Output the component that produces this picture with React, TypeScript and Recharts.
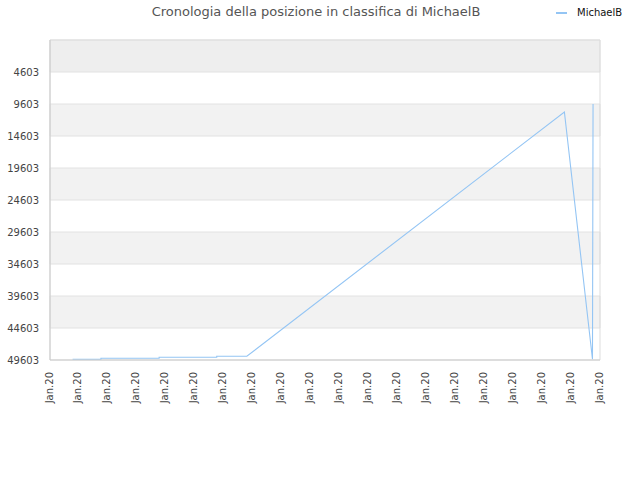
import React from 'react';
import { LineChart, Line, XAxis, YAxis, ReferenceArea } from 'recharts';

const title = 'Cronologia della posizione in classifica di MichaelB';
const seriesName = 'MichaelB';

// x positions in units of x-tick slots, y = ranking position
const days = [0.78, 1.76, 1.76, 3.77, 3.77, 5.76, 5.76, 6.8, 17.77, 18.74, 18.76];
const ranks = [49490, 49490, 49334, 49334, 49178, 49178, 49022, 49022, 10850, 49490, 9600];

const xTickValues = [0, 1, 2, 3, 4, 5, 6, 7, 8, 9, 10, 11, 12, 13, 14, 15, 16, 17, 18, 19];
const xTickLabels = [
  'Jan.20', 'Jan.20', 'Jan.20', 'Jan.20', 'Jan.20', 'Jan.20', 'Jan.20', 'Jan.20', 'Jan.20', 'Jan.20',
  'Jan.20', 'Jan.20', 'Jan.20', 'Jan.20', 'Jan.20', 'Jan.20', 'Jan.20', 'Jan.20', 'Jan.20', 'Jan.20',
];
const yTicks = [4603, 9603, 14603, 19603, 24603, 29603, 34603, 39603, 44603, 49603];
const yDomain = [-397, 49603];
const bandStarts = [-397, 9603, 19603, 29603, 39603];
const bandEnds = [4603, 14603, 24603, 34603, 44603];

const data = days.map((d, i) => ({ t: d, rank: ranks[i] }));

const LINE_COLOR = '#94c5f4';
const FONT = '"DejaVu Sans", sans-serif';

const XTick = (props: any) => {
  const { x, y, payload } = props;
  const label = xTickLabels[payload.value] ?? '';
  return (
    <g transform={`translate(${x},${y})`}>
      <text
        x={0}
        y={0}
        dy={2.5}
        textAnchor="end"
        transform="rotate(-90)"
        fontSize={10}
        fontFamily={FONT}
        fill="#444"
      >
        {label}
      </text>
    </g>
  );
};

export default function App() {
  return (
    <div style={{ position: 'absolute', left: 0, top: 0, width: 640, height: 480, background: '#fff' }}>
      <div
        style={{
          position: 'absolute',
          left: 0,
          top: 4,
          width: 632,
          textAlign: 'center',
          fontFamily: FONT,
          fontSize: 13,
          lineHeight: '16px',
          color: '#555',
        }}
      >
        {title}
      </div>
      <div
        style={{
          position: 'absolute',
          left: 556,
          top: 6,
          display: 'flex',
          alignItems: 'center',
          fontFamily: FONT,
          fontSize: 10,
          lineHeight: '14px',
          color: '#111',
        }}
      >
        <span style={{ display: 'inline-block', width: 11, height: 2, background: LINE_COLOR, marginRight: 10 }} />
        <span>{seriesName}</span>
      </div>
      <LineChart width={640} height={480} data={data} margin={{ top: 40, right: 40, bottom: 0, left: 0 }}>
        {bandStarts.map((s, i) => (
          <ReferenceArea
            key={i}
            y1={s}
            y2={bandEnds[i]}
            fill={i === 0 ? '#eeeeee' : '#f2f2f2'}
            fillOpacity={1}
            stroke="#e2e2e2"
            strokeWidth={1}
          />
        ))}
        <ReferenceArea x1={0} x2={19} y1={yDomain[0]} y2={yDomain[1]} fill="none" stroke="#dddddd" />
        <XAxis
          dataKey="t"
          type="number"
          domain={[0, 19]}
          ticks={xTickValues}
          interval={0}
          height={120}
          tick={<XTick />}
          tickLine={false}
          tickSize={6}
          tickMargin={6}
          axisLine={{ stroke: '#cccccc' }}
        />
        <YAxis
          type="number"
          domain={yDomain}
          reversed
          ticks={yTicks}
          interval={0}
          width={50}
          tickLine={false}
          tickSize={8}
          tickMargin={3}
          axisLine={{ stroke: '#cccccc' }}
          tick={{ fontSize: 10, fontFamily: FONT, fill: '#444' }}
        />
        <Line
          type="linear"
          dataKey="rank"
          name={seriesName}
          stroke={LINE_COLOR}
          strokeWidth={1.1}
          dot={false}
          isAnimationActive={false}
        />
      </LineChart>
    </div>
  );
}
